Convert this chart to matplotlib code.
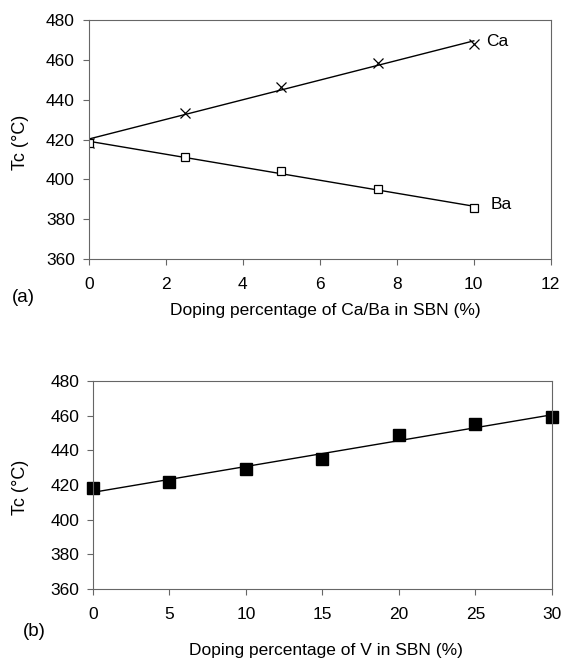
import numpy as np
import matplotlib
matplotlib.use('Agg')
import matplotlib.pyplot as plt

plt.rcParams['font.family'] = ['Liberation Sans', 'DejaVu Sans']

"data panel (a): Ca and Ba doping"
x_a = [0, 2.5, 5, 7.5, 10]
tc_ca = [418.5, 433.5, 446.5, 458.2, 467.8]
tc_ba = [418.3, 411.0, 404.3, 395.0, 385.5]

"data panel (b): V doping"
x_b = [0, 5, 10, 15, 20, 25, 30]
tc_v = [418.1, 421.9, 429.0, 435.3, 448.8, 455.1, 459.0]

def trend(x, y):
    p = np.polyfit(x, y, 1)
    xx = np.array([min(x), max(x)])
    return xx, np.polyval(p, xx)

fig = plt.figure(figsize=(5.69, 6.6), dpi=100)
fs = 12.5
frame = '#666666'

"panel (a)"
ax1 = fig.add_axes([0.156, 0.6076, 0.812, 0.362])
xx, yy = trend(x_a, tc_ca)
ax1.plot(xx, yy, color='black', lw=1.0)
xx, yy = trend(x_a, tc_ba)
ax1.plot(xx, yy, color='black', lw=1.0)
ax1.plot(x_a, tc_ca, linestyle='', marker='x', ms=7, mew=0.9, color='black')
ax1.plot(x_a, tc_ba, linestyle='', marker='s', ms=6, mew=0.9, mfc='white', mec='black')
ax1.text(10.33, 469, 'Ca', fontsize=fs, va='center', ha='left')
ax1.text(10.45, 387.5, 'Ba', fontsize=fs, va='center', ha='left')
ax1.set_xlim(0, 12)
ax1.set_ylim(360, 480)
ax1.set_xticks(np.arange(0, 13, 2))
ax1.set_yticks(np.arange(360, 481, 20))

"panel (b)"
ax2 = fig.add_axes([0.1634, 0.1076, 0.8067, 0.315])
xx, yy = trend(x_b, tc_v)
ax2.plot(xx, yy, color='black', lw=1.0)
ax2.plot(x_b, tc_v, linestyle='', marker='s', ms=8, color='black', clip_on=False)
ax2.set_xlim(0, 30)
ax2.set_ylim(360, 480)
ax2.set_xticks(np.arange(0, 31, 5))
ax2.set_yticks(np.arange(360, 481, 20))

for ax in (ax1, ax2):
    for s in ax.spines.values():
        s.set_color(frame)
        s.set_linewidth(0.8)
    ax.tick_params(axis='both', labelsize=fs, length=4, width=0.8, color=frame, direction='out')
    ax.tick_params(axis='x', pad=9)
    ax.tick_params(axis='y', pad=6)

fig.text(0.036, 1 - 142/660, 'Tc (°C)', rotation=90, fontsize=fs + 0.5, ha='center', va='center')
fig.text(0.036, 1 - 487/660, 'Tc (°C)', rotation=90, fontsize=fs + 0.5, ha='center', va='center')
fig.text(0.021, 1 - 298/660, '(a)', fontsize=fs + 1, ha='left', va='center')
fig.text(0.571, 1 - 311/660, 'Doping percentage of Ca/Ba in SBN (%)', fontsize=fs, ha='center', va='center')
fig.text(0.040, 1 - 632/660, '(b)', fontsize=fs + 1, ha='left', va='center')
fig.text(0.573, 1 - 651/660, 'Doping percentage of V in SBN (%)', fontsize=fs, ha='center', va='center')

fig.savefig('out.png', dpi=100)
